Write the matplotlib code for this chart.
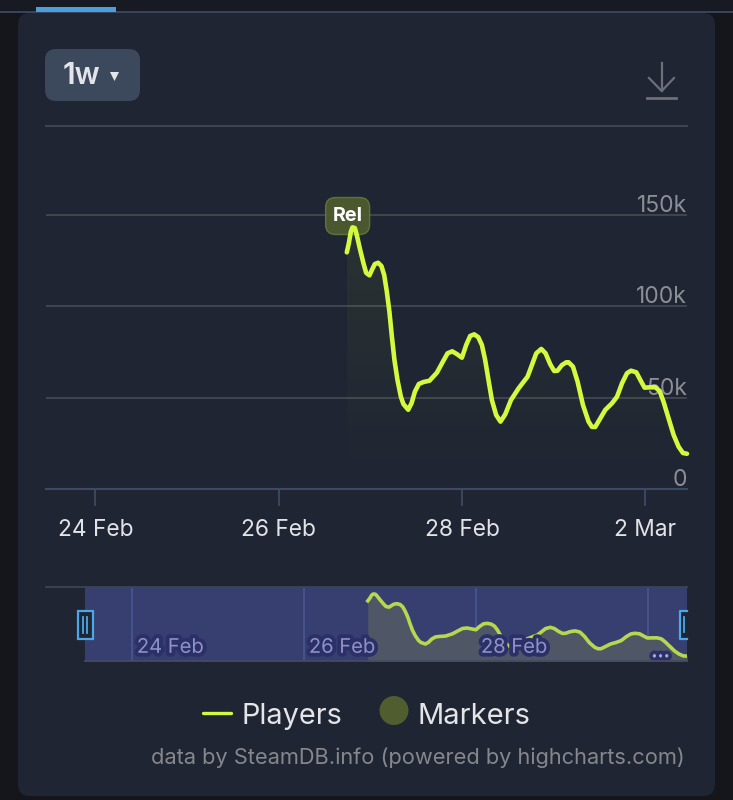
import matplotlib
matplotlib.use("Agg")
import matplotlib.pyplot as plt
import matplotlib.colors as mcolors
import matplotlib.dates as mdates
import matplotlib.patheffects as pe
from matplotlib.patches import FancyBboxPatch, Rectangle, Ellipse, Polygon
from matplotlib.transforms import IdentityTransform
import numpy as np
import pandas as pd

plt.rcParams['font.family'] = ['Inter', 'DejaVu Sans']

# days after 24 Feb
day_offset = [2.742, 2.764, 2.786, 2.804, 2.830, 2.851, 2.888, 2.924, 2.953, 2.989,
              3.019, 3.048, 3.084, 3.120, 3.150, 3.179, 3.207, 3.234, 3.262, 3.295,
              3.332, 3.360, 3.412, 3.448, 3.485, 3.528, 3.579, 3.644, 3.725, 3.790,
              3.841, 3.892, 3.943, 3.998, 4.045, 4.088, 4.132, 4.176, 4.216, 4.252,
              4.288, 4.325, 4.372, 4.419, 4.471, 4.533, 4.616, 4.714, 4.762, 4.809,
              4.864, 4.911, 4.962, 5.005, 5.041, 5.090, 5.137, 5.162, 5.210, 5.260,
              5.319, 5.380, 5.417, 5.453, 5.508, 5.562, 5.635, 5.690, 5.745, 5.799,
              5.843, 5.901, 5.945, 5.991, 6.054, 6.108, 6.155, 6.198, 6.253, 6.308,
              6.362, 6.410, 6.454]
players = [129600, 134500, 140900, 143300, 142900, 139100, 130900, 123600, 118400, 117000,
           120300, 123200, 123900, 122100, 117200, 108000, 97100, 83400, 70600, 59700,
           50500, 46500, 43400, 46900, 53300, 57500, 58600, 59300, 63700, 69700,
           74300, 75400, 73900, 71900, 78900, 83800, 84700, 83200, 78900, 70600,
           59700, 48700, 40500, 36900, 40900, 48700, 55100, 61500, 67900, 74300,
           76700, 74300, 68300, 64600, 64800, 67900, 69400, 69400, 67000, 58800,
           46000, 36900, 34000, 34000, 38700, 43300, 46900, 50500, 57900, 63400,
           64800, 63900, 59700, 55500, 55700, 55700, 53700, 47800, 38700, 29600,
           23200, 19700, 19300]

tick_days = ["2025-02-24", "2025-02-26", "2025-02-28", "2025-03-02"]
tick_labels = ["24 Feb", "26 Feb", "28 Feb", "2 Mar"]
nav_labels = ["24 Feb", "26 Feb", "28 Feb", "..."]
y_ticks = [50000, 100000, 150000]
y_labels = ["0", "50k", "100k", "150k"]

start = pd.Timestamp("2025-02-24")
times = start + pd.to_timedelta(day_offset, unit="D")
ticks = pd.to_datetime(tick_days)
marker_time = start + pd.Timedelta(days=2.751)
marker_value = 149500

W, H = 733, 800
BG = "#1f2532"
LINE = "#d4f93f"

fig = plt.figure(figsize=(W / 100, H / 100), dpi=100, facecolor="#15161b")


def px_axes(l, t, r, b, z):
    return fig.add_axes([l / W, 1 - b / H, (r - l) / W, (b - t) / H], zorder=z)


# page furniture behind the chart
bg = px_axes(0, 0, W, H, 0)
bg.set_xlim(0, W)
bg.set_ylim(H, 0)
bg.axis("off")
bg.add_patch(Rectangle((0, 0), W, 11, fc="#171a22", ec="none"))
bg.add_patch(FancyBboxPatch((18, 13), 697, 783, boxstyle="round,pad=0,rounding_size=12", fc=BG, ec="none"))
bg.add_patch(Rectangle((0, 11), W, 1.5, fc="#3b4358", ec="none"))
bg.add_patch(Rectangle((36, 7), 80, 4.5, fc="#4aa0dc", ec="none"))
bg.add_patch(FancyBboxPatch((45, 49), 95, 52, boxstyle="round,pad=0,rounding_size=11", fc="#3c485c", ec="none"))
bg.text(82, 76.5, "1w", color="#e4e5e8", fontsize=21.5, fontweight="semibold", ha="center", va="center")
bg.add_patch(Polygon([(110, 72), (119, 72), (114.5, 81)], fc="#e4e5e8", ec="none"))
icon = "#6d7078"
bg.plot([661.7, 661.7], [63, 91], color=icon, lw=1.6)
bg.plot([649, 661.7, 674], [78, 91, 78], color=icon, lw=1.6)
bg.plot([647, 676], [98.3, 98.3], color=icon, lw=2)

# main chart
ax = px_axes(46, 126, 687, 489, 1)
ax.set_facecolor("none")
for s in ["left", "right", "bottom"]:
    ax.spines[s].set_visible(False)
ax.spines["top"].set_color("#41454f")
ax.spines["top"].set_linewidth(1.4)
ax.plot(times, players, color=LINE, lw=3.3, solid_joinstyle="round", solid_capstyle="round", clip_on=False, zorder=3)

# faint fade under the line
shade = np.zeros((256, 1, 4))
shade[:, :, :3] = mcolors.to_rgb(LINE)
shade[:, :, 3] = np.linspace(0.07, 0, 256)[:, None]
poly = ax.fill_between(times, players, 0, color="none", lw=0)
im = ax.imshow(shade, extent=[mdates.date2num(times[0]), mdates.date2num(times[-1]), 0, 150000],
               aspect="auto", zorder=1)
im.set_clip_path(poly.get_paths()[0], transform=ax.transData)

ax.set_xlim(start + pd.Timedelta(days=-0.54), start + pd.Timedelta(days=6.454))
ax.set_ylim(0, 198800)
ax.set_yticks(y_ticks)
ax.set_yticklabels([])
ax.tick_params(axis="y", length=0)
ax.grid(axis="y", color="#41454f", lw=1.4)
ax.set_axisbelow(True)
ax.axhline(0, color="#3d4a66", lw=1.5, clip_on=False)
ax.set_xticks(ticks)
ax.set_xticklabels(tick_labels, color="#e2e3e6", fontsize=16.4)
ax.tick_params(axis="x", length=12, width=1.3, color="#3d4a66", pad=9.5)
for v, lab in zip([0] + y_ticks, y_labels):
    ax.annotate(lab, xy=(1, v), xycoords=ax.get_yaxis_transform(), xytext=(0, -1.3),
                textcoords="offset points", ha="right", va="bottom", color="#8b8e96", fontsize=16.5, zorder=2)

# release marker, box sits under the line
cx, cy = ax.transData.transform((mdates.date2num(marker_time), marker_value))
ax.add_patch(FancyBboxPatch((cx - 22, cy - 18.5), 44, 37, boxstyle="round,pad=0,rounding_size=10",
                            transform=IdentityTransform(), fc="#4f5d2f", ec="#66753a", lw=1, alpha=0.92, zorder=2.5))
ax.text(marker_time, marker_value, "Rel", color="#ffffff", fontsize=14.2, fontweight="bold",
        ha="center", va="center", zorder=5)

# navigator
nav = px_axes(84.5, 587, 687, 661, 1)
nav.set_facecolor("#363f6f")
nav.set_xlim(start + pd.Timedelta(days=-0.552), start + pd.Timedelta(days=6.453))
nav.set_ylim(9500, 157300)
for s in nav.spines.values():
    s.set_visible(False)
nav.set_yticks([])
nav.set_xticks(ticks)
nav.set_xticklabels([])
nav.tick_params(axis="x", length=0)
nav.grid(axis="x", color="#4a558e", lw=1.3)
nav.set_axisbelow(True)
nav.fill_between(times, players, 0, color="#4f5767", lw=0)
nav.plot(times, players, color="#b5d850", lw=2.6, solid_joinstyle="round")
halo = [pe.withStroke(linewidth=5.5, foreground="#2c3068")]
for t, lab in zip(mdates.date2num(ticks), nav_labels):
    if lab == "...":
        nav.annotate(lab, xy=(t, 0), xycoords=nav.get_xaxis_transform(), xytext=(9, 6), textcoords="offset points",
                     ha="center", va="center", color="#a6aad2", fontsize=13, fontweight="bold", path_effects=halo)
    else:
        nav.annotate(lab, xy=(t, 0), xycoords=nav.get_xaxis_transform(), xytext=(3.5, 9.5), textcoords="offset points",
                     ha="left", va="center", color="#8f93c4", fontsize=14.5, path_effects=halo)

# things on top: navigator handles, legend and credit
fg = px_axes(0, 0, W, H, 2)
fg.set_xlim(0, W)
fg.set_ylim(H, 0)
fg.axis("off")
fg.plot([46, 687], [587, 587], color="#3c4358", lw=1.3)
fg.plot([84.5, 687], [661, 661], color="#444b60", lw=1.3)
blue = "#4aa8e8"
fg.add_patch(Rectangle((77.5, 611), 15, 28, fc=BG, ec=blue, lw=1.6))
fg.plot([83.4, 83.4], [617, 633], color=blue, lw=1.3)
fg.plot([87, 87], [617, 633], color=blue, lw=1.3)
fg.add_patch(Rectangle((680, 611), 7, 28, fc=BG, ec="none"))
fg.plot([687, 680, 680, 687], [611, 611, 639, 639], color=blue, lw=1.6)
fg.plot([684.4, 684.4], [617, 632], color=blue, lw=1.3)

fg.plot([203, 231], [712.5, 712.5], color=LINE, lw=2.4, solid_capstyle="round")
fg.text(241, 716, "Players", color="#e4e5e8", fontsize=20.8, ha="left", va="center")
fg.add_patch(Ellipse((394, 710.5), 29, 29, fc="#4f5d2f", ec="none"))
fg.text(418, 716, "Markers", color="#e4e5e8", fontsize=21, ha="left", va="center")
fg.text(151, 757.5, "data by SteamDB.info (powered by highcharts.com)", color="#85878c", fontsize=15.7, ha="left", va="center")

fig.savefig("out.png", dpi=100, facecolor=fig.get_facecolor())
